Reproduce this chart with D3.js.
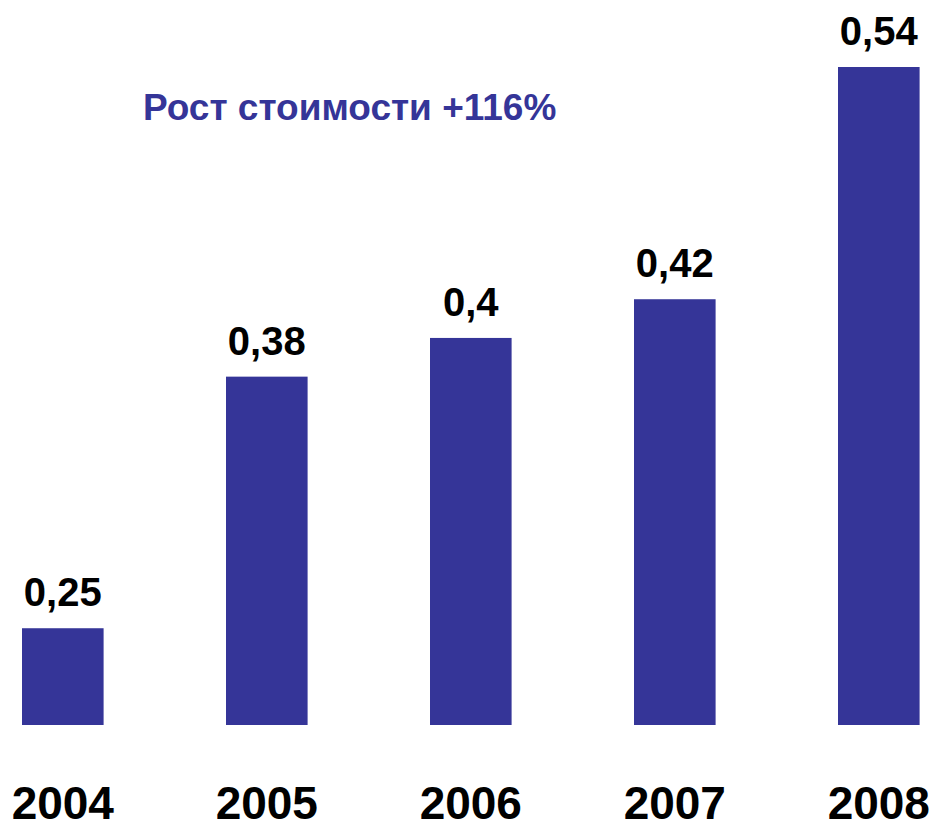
<!DOCTYPE html>
<html>
<head>
<meta charset="utf-8">
<script src="https://cdn.jsdelivr.net/npm/d3@7"></script>
<style>
  html, body { margin: 0; padding: 0; background: #fff; }
  svg { display: block; font-family: "Liberation Sans", Arial, sans-serif; }
</style>
</head>
<body>
<svg id="chart"></svg>
<script>
// данные
const years = ["2004", "2005", "2006", "2007", "2008"];
const values = [0.25, 0.38, 0.4, 0.42, 0.54];
const valueLabels = ["0,25", "0,38", "0,4", "0,42", "0,54"];
const title = "Рост стоимости +116%";

const width = 937, height = 825;
const barColor = "#353598";

const svg = d3.select("#chart")
    .attr("width", width)
    .attr("height", height);

// шкалы
const x = d3.scaleBand()
    .domain(years)
    .range([-39.2, 980.8])
    .paddingInner(0.6)
    .paddingOuter(0.3);

// ось начинается с 0.2
const y = d3.scaleLinear()
    .domain([0.2, 0.54])
    .range([725, 67]);

const rows = years.map((yr, i) => ({ year: yr, value: values[i], label: valueLabels[i] }));

// столбцы
svg.selectAll(".bar")
    .data(rows)
    .join("rect")
    .attr("class", "bar")
    .attr("x", d => x(d.year))
    .attr("y", d => y(d.value))
    .attr("width", x.bandwidth())
    .attr("height", d => y(0.2) - y(d.value))
    .attr("fill", barColor);

// подписи значений
svg.selectAll(".val")
    .data(rows)
    .join("text")
    .attr("class", "val")
    .attr("x", d => x(d.year) + x.bandwidth() / 2)
    .attr("y", d => y(d.value) - 22)
    .attr("text-anchor", "middle")
    .style("font-size", "40px")
    .style("font-weight", "bold")
    .attr("fill", "#000")
    .text(d => d.label);

// подписи годов
svg.selectAll(".year")
    .data(rows)
    .join("text")
    .attr("class", "year")
    .attr("x", d => x(d.year) + x.bandwidth() / 2)
    .attr("y", 819)
    .attr("text-anchor", "middle")
    .style("font-size", "46px")
    .style("font-weight", "bold")
    .attr("fill", "#000")
    .text(d => d.year);

// заголовок
svg.append("text")
    .attr("x", 143)
    .attr("y", 120)
    .style("font-size", "37px")
    .style("font-weight", "bold")
    .attr("fill", barColor)
    .text(title);
</script>
</body>
</html>
